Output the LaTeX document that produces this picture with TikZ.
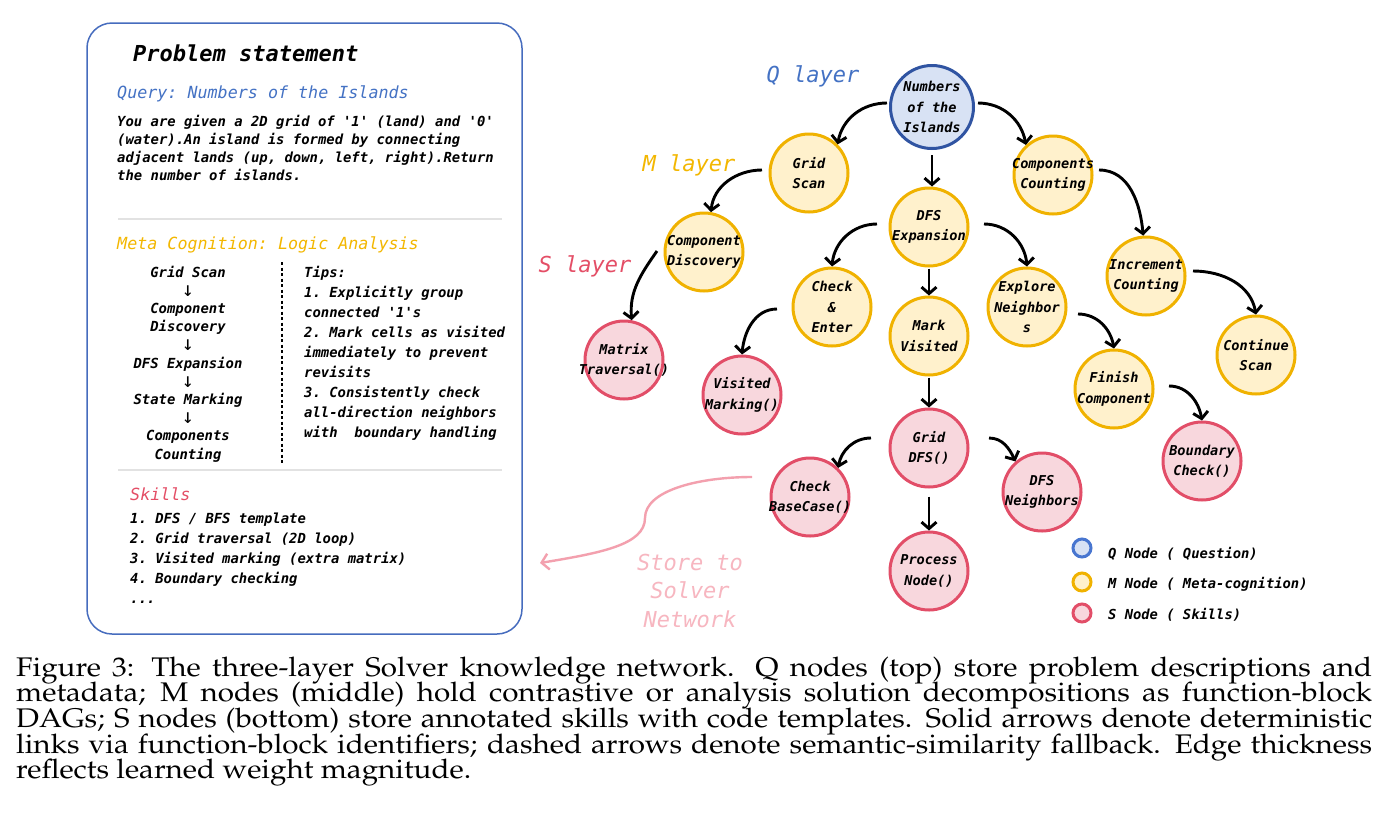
\documentclass[tikz,border=0pt]{standalone}
\usepackage[T1]{fontenc}
\usepackage{fontspec}
\setmonofont{DejaVu Sans Mono}
\usepackage{graphicx}
\usetikzlibrary{arrows.meta,calc}
\definecolor{panelblue}{RGB}{70,108,190}
\definecolor{qtext}{RGB}{68,114,196}
\definecolor{mtext}{RGB}{243,183,0}
\definecolor{stext}{RGB}{228,78,102}
\definecolor{qfill}{RGB}{216,226,244}
\definecolor{qborder}{RGB}{48,84,162}
\definecolor{qlegb}{RGB}{72,118,208}
\definecolor{mfill}{RGB}{255,241,204}
\definecolor{mborder}{RGB}{240,178,0}
\definecolor{sfill}{RGB}{248,215,221}
\definecolor{sborder}{RGB}{226,78,104}
\definecolor{storec}{RGB}{243,160,174}
\definecolor{storet}{RGB}{247,182,192}
\definecolor{sepgray}{RGB}{226,226,226}
\newcommand\bodyfont{\ttfamily\bfseries\itshape\fontsize{13.9}{18.3}\selectfont}
\newcommand\headfont{\ttfamily\mdseries\itshape\fontsize{16.7}{20}\selectfont}
\newcommand\layerfont{\ttfamily\mdseries\itshape\fontsize{22}{26}\selectfont}
\newcommand\capfont{\fontencoding{T1}\fontfamily{ppl}\fontseries{m}\fontshape{n}\fontsize{29.6}{29.6}\selectfont}
\newcommand\capline[1]{\capfont\scalebox{1}[0.91]{\makebox[1356pt][s]{#1}}}
\begin{document}
\begin{tikzpicture}[x=1pt,y=1pt,
  qn/.style={circle,draw=qborder,fill=qfill,line width=3pt,minimum size=83pt,inner sep=0pt},
  mn/.style={circle,draw=mborder,fill=mfill,line width=3pt,minimum size=78pt,inner sep=0pt},
  sn/.style={circle,draw=sborder,fill=sfill,line width=3pt,minimum size=78pt,inner sep=0pt},
  ntxt/.style={font=\ttfamily\bfseries\itshape\fontsize{13.6}{20.5}\selectfont,align=center,inner sep=0pt},
  arr/.style={-{Straight Barb[length=6.5pt,width=15pt]},line width=2.9pt,black},
  storearr/.style={-{Straight Barb[length=7pt,width=16pt]},line width=2.4pt,storec},
  bodyline/.style={anchor=base west,inner sep=0pt,font=\bodyfont},
  colline/.style={anchor=base,inner sep=0pt,font=\bodyfont},
  downarr/.style={anchor=base,inner sep=0pt,font=\ttfamily\mdseries\upshape\fontsize{20}{20}\selectfont},
  sep/.style={draw=sepgray,line width=1.6pt},
  legdot/.style={circle,line width=3pt,minimum size=18pt,inner sep=0pt},
  legtxt/.style={anchor=base west,inner sep=0pt,font=\ttfamily\bfseries\itshape\fontsize{13.8}{16}\selectfont},
  capl/.style={anchor=base west,inner sep=0pt}]
\fill[white] (0,0) rectangle (1393,-831);
\useasboundingbox (0,0) rectangle (1393,-831);

% ---------------- left panel ----------------
\draw[panelblue,line width=1.5pt,rounded corners=25pt] (87,-23) rectangle (522,-634);
\node[anchor=base west,inner sep=0pt,font=\ttfamily\bfseries\itshape\fontsize{22}{26}\selectfont] (title) at (133,-61) {Problem statement};
\node[anchor=base west,inner sep=0pt,font=\headfont,text=qtext] (query) at (117,-98) {Query: Numbers of the Islands};
\node[bodyline] (body1) at (117,-126) {You are given a 2D grid of '1' (land) and '0'};
\node[bodyline] (body2) at (117,-144.3) {(water).An island is formed by connecting};
\node[bodyline] (body3) at (117,-162.6) {adjacent lands (up, down, left, right).Return};
\node[bodyline] (body4) at (117,-180.9) {the number of islands.};
\draw[sep] (118,-219) -- (502,-219);
\node[anchor=base west,inner sep=0pt,font=\headfont,text=mtext] (meta) at (117,-249) {Meta Cognition: Logic Analysis};
\node[colline] (flow1) at (188,-277) {Grid Scan};
\node[downarr] (flow2) at (188,-296) {↓};
\node[colline] (flow3) at (188,-313.4) {Component};
\node[colline] (flow4) at (188,-331.6) {Discovery};
\node[downarr] (flow5) at (188,-350.5) {↓};
\node[colline] (flow6) at (188,-368) {DFS Expansion};
\node[downarr] (flow7) at (188,-387) {↓};
\node[colline] (flow8) at (188,-404.4) {State Marking};
\node[downarr] (flow9) at (188,-423.4) {↓};
\node[colline] (flow10) at (188,-440.8) {Components};
\node[colline] (flow11) at (188,-459) {Counting};
\draw[black,line width=1.1pt,dash pattern=on 3pt off 2.5pt] (282,-262) -- (282,-463);
\node[bodyline] (tip1) at (304,-277) {Tips:};
\node[bodyline] (tip2) at (304,-297) {1. Explicitly group};
\node[bodyline] (tip3) at (304,-317) {connected '1's};
\node[bodyline] (tip4) at (304,-337) {2. Mark cells as visited};
\node[bodyline] (tip5) at (304,-357) {immediately to prevent};
\node[bodyline] (tip6) at (304,-377) {revisits};
\node[bodyline] (tip7) at (304,-397) {3. Consistently check};
\node[bodyline] (tip8) at (304,-417) {all-direction neighbors};
\node[bodyline] (tip9) at (304,-437) {with\ \ boundary handling};
\draw[sep] (118,-470) -- (502,-470);
\node[anchor=base west,inner sep=0pt,font=\headfont,text=stext] (skills) at (130,-500) {Skills};
\node[bodyline] (sk1) at (130,-523) {1. DFS / BFS template};
\node[bodyline] (sk2) at (130,-543) {2. Grid traversal (2D loop)};
\node[bodyline] (sk3) at (130,-563) {3. Visited marking (extra matrix)};
\node[bodyline] (sk4) at (130,-583) {4. Boundary checking};
\node[bodyline] (sk5) at (130,-603) {...};

% ---------------- layer labels ----------------
\node[anchor=base,inner sep=0pt,font=\layerfont,text=qtext] (ql) at (813,-82) {Q layer};
\node[anchor=base,inner sep=0pt,font=\layerfont,text=mtext] (ml) at (689,-171) {M layer};
\node[anchor=base,inner sep=0pt,font=\layerfont,text=stext] (sl) at (585,-272) {S layer};

% ---------------- nodes ----------------
\node[qn,label={[ntxt]center:Numbers\\of the\\Islands}] (q) at (932,-107) {};
\node[mn,label={[ntxt]center:Grid\\Scan}] (gs) at (809,-173) {};
\node[mn,label={[ntxt]center:Components\\Counting}] (cc) at (1053,-175) {};
\node[mn,label={[ntxt]center:Component\\Discovery}] (cd) at (704,-252) {};
\node[mn,label={[ntxt]center:DFS\\Expansion}] (dfs) at (929,-227) {};
\node[mn,label={[ntxt]center:Increment\\Counting}] (ic) at (1146,-276) {};
\node[mn,label={[ntxt]center:Check\\\&\\Enter}] (ce) at (832,-307) {};
\node[mn,label={[ntxt]center:Mark\\Visited}] (mv) at (929,-336) {};
\node[mn,label={[ntxt]center:Explore\\Neighbor\\s}] (en) at (1027,-307) {};
\node[mn,label={[ntxt]center:Continue\\Scan}] (cs) at (1256,-355) {};
\node[mn,label={[ntxt]center:Finish\\Component}] (fc) at (1114,-389) {};
\node[sn,label={[ntxt]center:Matrix\\Traversal()}] (mt) at (624,-360) {};
\node[sn,label={[ntxt]center:Visited\\Marking()}] (vm) at (742,-395) {};
\node[sn,label={[ntxt]center:Grid\\DFS()}] (gd) at (929,-448) {};
\node[sn,label={[ntxt]center:Check\\BaseCase()}] (cb) at (810,-497) {};
\node[sn,label={[ntxt]center:DFS\\Neighbors}] (dn) at (1042,-492) {};
\node[sn,label={[ntxt]center:Boundary\\Check()}] (bc) at (1202,-461) {};
\node[sn,label={[ntxt]center:Process\\Node()}] (pn) at (929,-571) {};

% ---------------- connectors ----------------
\draw[arr] ($(q)+(-45,4)$) to[out=180,in=80] (gs.45);
\draw[arr] ($(q.south)+(0,-5)$) -- (q.south |- dfs.north);
\draw[arr] ($(q)+(46,4)$) to[out=0,in=100] (cc.132);
\draw[arr] ($(gs)+(-47,3)$) to[out=180,in=85] (cd.80);
\draw[arr] ($(cd)+(-47,1)$) to[out=235,in=95] (mt.79);
\draw[arr] ($(dfs)+(-52,3)$) to[out=180,in=85] (ce.90);
\draw[arr] ($(dfs.south)+(0,-1)$) -- (mv.north);
\draw[arr] ($(dfs)+(55,3)$) to[out=0,in=95] (en.90);
\draw[arr] ($(cc)+(46,5)$) to[out=0,in=95] (ic.94);
\draw[arr] ($(ic)+(47,5)$) to[out=0,in=100] (cs.90);
\draw[arr] ($(ce)+(-55,-2)$) to[out=180,in=85] (vm.90);
\draw[arr] ($(mv.south)+(0,-1)$) -- (gd.north);
\draw[arr] ($(en)+(51,-7)$) to[out=0,in=100] (fc.90);
\draw[arr] ($(fc)+(55,3)$) to[out=0,in=100] (bc.90);
\draw[arr] ($(gd)+(-58,10)$) to[out=180,in=80] (cb.46);
\draw[arr] ($(gd)+(60,10)$) to[out=0,in=115] (dn.131);
\draw[arr] ($(gd.south)+(0,-8)$) -- (pn.north);

% ---------------- store arrow ----------------
\coordinate (st0) at (752,-477);
\coordinate (st1) at (645,-518);
\coordinate (st2) at (540,-563);
\draw[storearr] (st0) .. controls (700,-477) and (645,-490) .. (st1) .. controls (645,-545) and (600,-553) .. (st2);
\node[anchor=base,inner sep=0pt,font=\layerfont,text=storet] (store1) at (690,-570) {Store to};
\node[anchor=base,inner sep=0pt,font=\layerfont,text=storet] (store2) at (690,-598.5) {Solver};
\node[anchor=base,inner sep=0pt,font=\layerfont,text=storet] (store3) at (690,-627) {Network};

% ---------------- legend ----------------
\node[legdot,draw=qlegb,fill=qfill] (lq) at (1082,-548) {};
\node[legdot,draw=mborder,fill=mfill] (lm) at (1082,-582) {};
\node[legdot,draw=sborder,fill=sfill] (ls) at (1082,-613) {};
\node[legtxt] (lqt) at (1108,-558) {Q Node ( Question)};
\node[legtxt] (lmt) at (1108,-588) {M Node ( Meta-cognition)};
\node[legtxt] (lst) at (1108,-619) {S Node ( Skills)};

% ---------------- caption ----------------
\node[capl] (cap1) at (16,-676) {\capline{Figure 3: The three-layer Solver knowledge network.  Q nodes (top) store problem descriptions and}};
\node[capl] (cap2) at (16,-701.7) {\capline{metadata; M nodes (middle) hold contrastive or analysis solution decompositions as function-block}};
\node[capl] (cap3) at (16,-727.4) {\capline{DAGs; S nodes (bottom) store annotated skills with code templates. Solid arrows denote deterministic}};
\node[capl] (cap4) at (16,-753.1) {\capline{links via function-block identifiers; dashed arrows denote semantic-similarity fallback. Edge thickness}};
\node[capl] (cap5) at (16,-778.8) {\capfont\scalebox{1}[0.91]{reflects learned weight magnitude.}};
\end{tikzpicture}
\end{document}
